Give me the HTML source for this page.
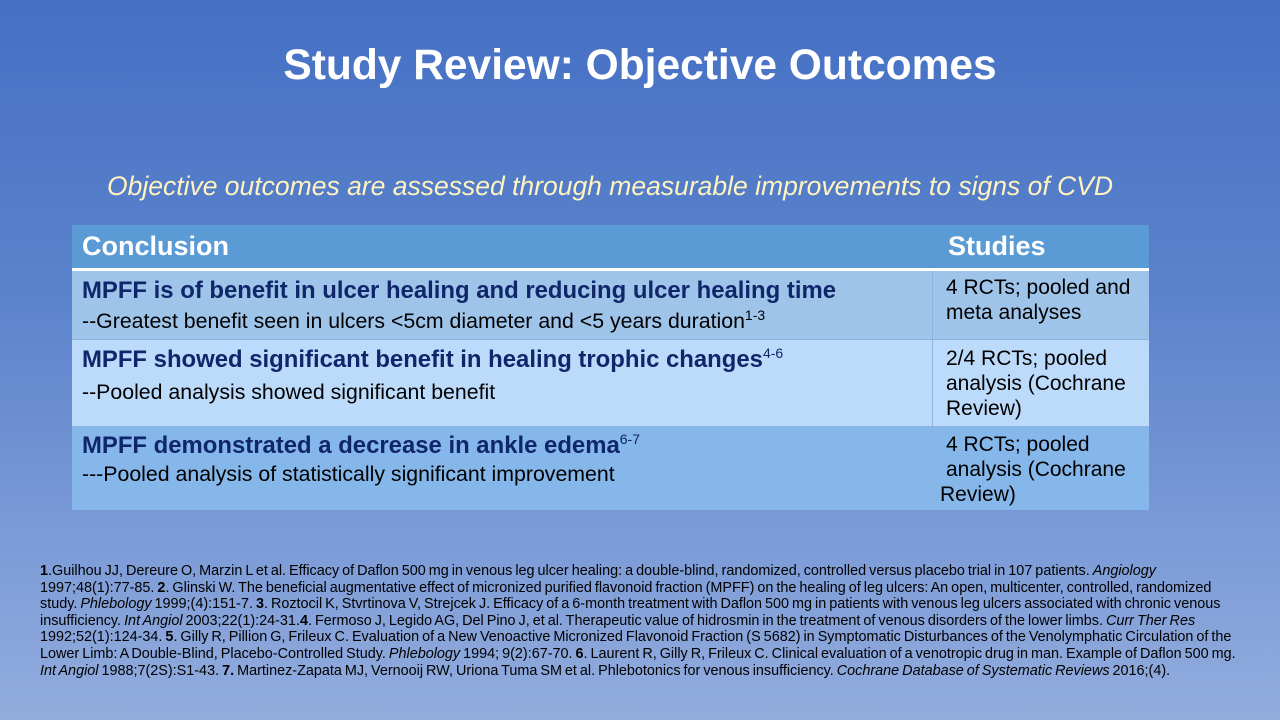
<!DOCTYPE html>
<html><head><meta charset="utf-8"><style>
body{margin:0;width:1280px;height:720px;overflow:hidden;font-family:"Liberation Sans",Arial,sans-serif;
background:linear-gradient(180deg,#4570c3 0%,#5a82cc 40%,#7c9bd7 75%,#92acdd 100%);position:relative}
h1{position:absolute;top:42px;left:0;width:1280px;text-align:center;margin:0;color:#fff;font-size:42.5px;font-weight:bold}
.sub{position:absolute;top:171px;left:0;width:1220px;text-align:center;color:#fff3c0;font-style:italic;font-size:26.5px}
.tb{position:absolute;left:72px;top:225px;width:1077px}
.row{position:relative;box-sizing:border-box}
.c1{position:absolute;left:10px;top:0}
.c2{position:absolute;left:874px;top:0}
.div{position:absolute;left:860px;top:0;bottom:0;width:1px;background:#8db4e0}
.hd{height:46px;background:#5b9bd5;border-bottom:3px solid #fff;color:#fff;font-weight:bold;font-size:27px}
.hd .c1,.hd .c2{top:6px}
.b{color:#10266a;font-weight:bold;font-size:23.9px;white-space:nowrap}
.s{font-size:21.3px;white-space:nowrap}
sup{font-size:14px;font-weight:normal}
.st{font-size:21px;line-height:25px;white-space:nowrap}
.r1{height:68px;background:#9fc4ea}
.r2{height:87px;background:#bcdbfb;border-top:1px solid #8db4e0}
.r3{height:84px;background:#86b7ea;border-top:1px solid #8db4e0}
.fn{position:absolute;left:40px;top:563px;width:1200px;font-size:14.4px;line-height:16.6px;color:#000;word-spacing:-1px}
.fn div{white-space:nowrap}
</style></head><body>
<h1>Study Review: Objective Outcomes</h1>
<div class="sub">Objective outcomes are assessed through measurable improvements to signs of CVD</div>
<div class="tb">
<div class="row hd"><div class="c1">Conclusion</div><div class="c2" style="left:876px">Studies</div></div>
<div class="row r1"><div class="div"></div>
<div class="c1" style="top:6px"><div class="b">MPFF is of benefit in ulcer healing and reducing ulcer healing time</div><div class="s" style="margin-top:2px">--Greatest benefit seen in ulcers &lt;5cm diameter and &lt;5 years duration<sup>1-3</sup></div></div>
<div class="c2 st" style="top:4px">4 RCTs; pooled and<br>meta analyses</div></div>
<div class="row r2"><div class="div"></div>
<div class="c1" style="top:5px"><div class="b">MPFF showed significant benefit in healing trophic changes<sup>4-6</sup></div><div class="s" style="margin-top:6px">--Pooled analysis showed significant benefit</div></div>
<div class="c2 st" style="top:6px">2/4 RCTs; pooled<br>analysis (Cochrane<br>Review)</div></div>
<div class="row r3"><div class="div"></div>
<div class="c1" style="top:4px"><div class="b">MPFF demonstrated a decrease in ankle edema<sup>6-7</sup></div><div class="s" style="margin-top:2px">---Pooled analysis of statistically significant improvement</div></div>
<div class="c2 st" style="top:5px">4 RCTs; pooled<br>analysis (Cochrane<br><span style="margin-left:-6px">Review)</span></div></div>
</div>
<div class="fn">
<div><b>1</b>.Guilhou JJ, Dereure O, Marzin L et al. Efficacy of Daflon 500 mg in venous leg ulcer healing: a double-blind, randomized, controlled versus placebo trial in 107 patients. <i>Angiology</i></div>
<div>1997;48(1):77-85. <b>2</b>. Glinski W. The beneficial augmentative effect of micronized purified flavonoid fraction (MPFF) on the healing of leg ulcers: An open, multicenter, controlled, randomized</div>
<div>study. <i>Phlebology</i> 1999;(4):151-7. <b>3</b>. Roztocil K, Stvrtinova V, Strejcek J. Efficacy of a 6-month treatment with Daflon 500 mg in patients with venous leg ulcers associated with chronic venous</div>
<div>insufficiency. <i>Int Angiol</i> 2003;22(1):24-31.<b>4</b>. Fermoso J, Legido AG, Del Pino J, et al. Therapeutic value of hidrosmin in the treatment of venous disorders of the lower limbs. <i>Curr Ther Res</i></div>
<div>1992;52(1):124-34. <b>5</b>. Gilly R, Pillion G, Frileux C. Evaluation of a New Venoactive Micronized Flavonoid Fraction (S 5682) in Symptomatic Disturbances of the Venolymphatic Circulation of the</div>
<div>Lower Limb: A Double-Blind, Placebo-Controlled Study. <i>Phlebology</i> 1994; 9(2):67-70. <b>6</b>. Laurent R, Gilly R, Frileux C. Clinical evaluation of a venotropic drug in man. Example of Daflon 500 mg.</div>
<div><i>Int Angiol</i> 1988;7(2S):S1-43. <b>7.</b> Martinez-Zapata MJ, Vernooij RW, Uriona Tuma SM et al. Phlebotonics for venous insufficiency. <i>Cochrane Database of Systematic Reviews</i> 2016;(4).</div>
</div>
</body></html>
